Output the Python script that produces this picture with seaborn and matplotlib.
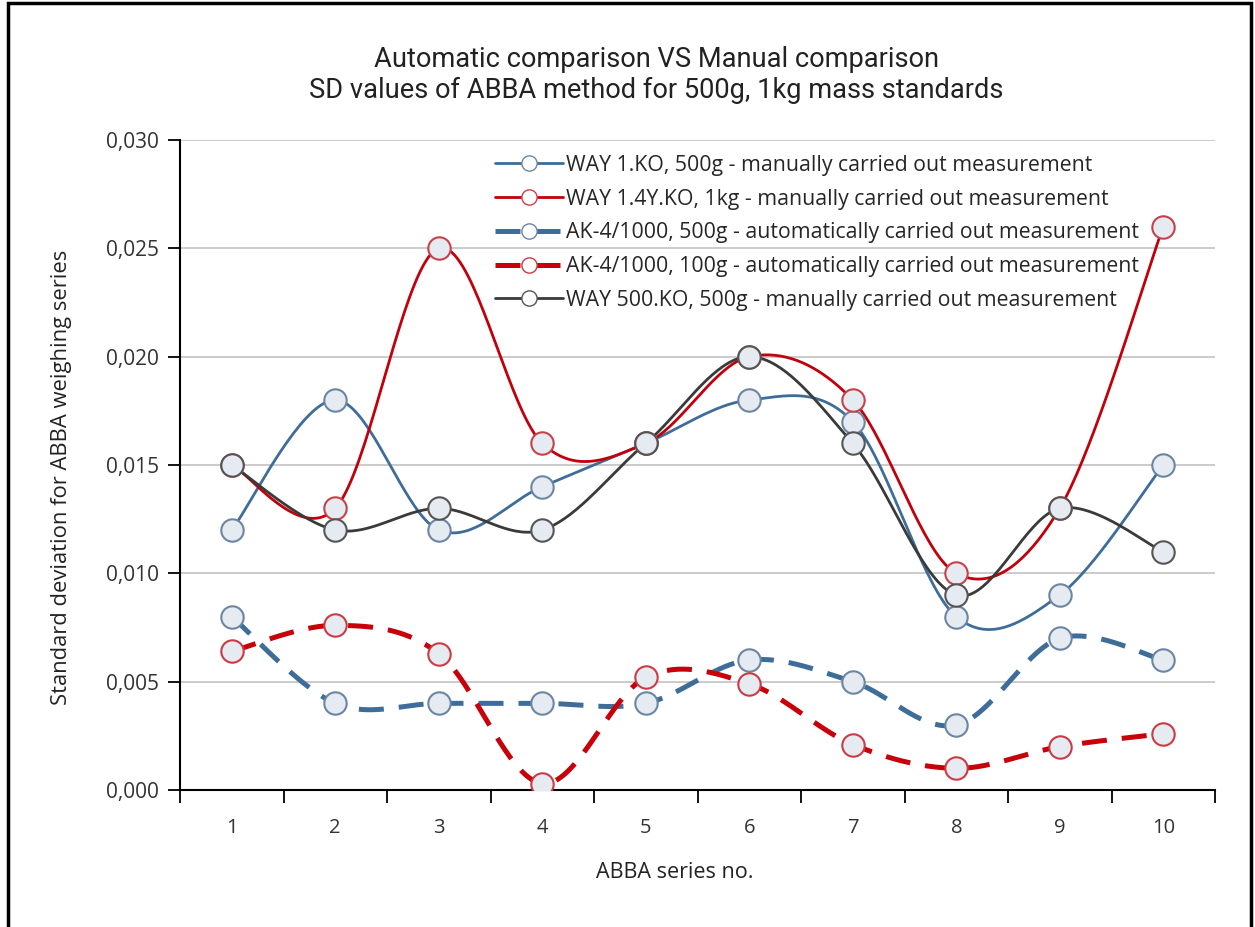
import numpy as np
import pandas as pd
import matplotlib
matplotlib.use("Agg")
import matplotlib.pyplot as plt
from matplotlib.lines import Line2D
from matplotlib.patches import Rectangle
from matplotlib.ticker import FuncFormatter, FixedLocator
import seaborn as sns

# data
series_no = [1, 2, 3, 4, 5, 6, 7, 8, 9, 10]
way1_500g = [0.012, 0.018, 0.012, 0.014, 0.016, 0.018, 0.017, 0.008, 0.009, 0.015]
way14_1kg = [0.015, 0.013, 0.025, 0.016, 0.016, 0.020, 0.018, 0.010, 0.013, 0.026]
ak_500g = [0.008, 0.004, 0.004, 0.004, 0.004, 0.006, 0.005, 0.003, 0.007, 0.006]
ak_100g = [0.0064, 0.0076, 0.0063, 0.0003, 0.0052, 0.0049, 0.0021, 0.0010, 0.0020, 0.0026]
way500_500g = [0.015, 0.012, 0.013, 0.012, 0.016, 0.020, 0.016, 0.009, 0.013, 0.011]

labels = [
    "WAY 1.KO, 500g - manually carried out measurement",
    "WAY 1.4Y.KO, 1kg - manually carried out measurement",
    "AK-4/1000, 500g - automatically carried out measurement",
    "AK-4/1000, 100g - automatically carried out measurement",
    "WAY 500.KO, 500g - manually carried out measurement",
]
y_ticks = [0.0, 0.005, 0.010, 0.015, 0.020, 0.025, 0.030]


def smooth(x, y, n=40):
    # Excel-like smoothed line: cubic Bezier segments with Catmull-Rom tangents
    p = np.column_stack([x, y]).astype(float)
    pts = []
    for i in range(len(p) - 1):
        prev = p[i - 1] if i > 0 else p[i]
        nxt = p[i + 2] if i + 2 < len(p) else p[i + 1]
        b0, b3 = p[i], p[i + 1]
        b1 = b0 + (b3 - prev) / 6
        b2 = b3 - (nxt - b0) / 6
        t = np.linspace(0, 1, n)[:, None]
        seg = ((1 - t) ** 3) * b0 + 3 * ((1 - t) ** 2) * t * b1 + 3 * (1 - t) * t ** 2 * b2 + t ** 3 * b3
        pts.append(seg if i == 0 else seg[1:])
    pts = np.vstack(pts)
    return pts[:, 0], pts[:, 1]


sns.set_theme(style="white")
plt.rcParams["font.family"] = ["Open Sans", "DejaVu Sans"]

fig = plt.figure(figsize=(12.55, 9.27), dpi=100)
ax = fig.add_axes([180 / 1255, 1 - 790 / 927, 1035 / 1255, 650 / 927])

face = "#e6eaf1"
styles = [
    dict(data=way1_500g, color="#3f6d9a", edge="#6b86a3", ls="-", lw=2.0),
    dict(data=way14_1kg, color="#c0000b", edge="#c8414a", ls="-", lw=2.0),
    dict(data=ak_500g, color="#3f6d9a", edge="#6b86a3", ls=(0, (5, 3)), lw=3.6),
    dict(data=ak_100g, color="#c8000a", edge="#cc3a43", ls=(0, (5, 3)), lw=3.6),
    dict(data=way500_500g, color="#3a3a3a", edge="#555555", ls="-", lw=2.0),
]

handles = []
for st, lab in zip(styles, labels):
    xs, ys = smooth(series_no, st["data"])
    sns.lineplot(x=xs, y=ys, sort=False, estimator=None, ax=ax, color=st["color"],
                 linewidth=st["lw"], linestyle=st["ls"], zorder=3)
    h = Line2D([], [], color=st["color"], lw=st["lw"], ls=st["ls"], marker="o",
               markersize=11, markerfacecolor="white", markeredgecolor=st["edge"])
    handles.append(h)

for st in styles:
    df = pd.DataFrame({"x": series_no, "y": st["data"]})
    sns.scatterplot(data=df, x="x", y="y", ax=ax, s=260, color=face,
                    edgecolor=st["edge"], linewidth=1.5, zorder=4)

ax.set_xlabel("")
ax.set_ylabel("")
ax.set_xlim(0.5, 10.5)
ax.set_ylim(0, 0.030)
ax.yaxis.set_major_locator(FixedLocator(y_ticks))
ax.yaxis.set_major_formatter(FuncFormatter(lambda v, p: f"{v:.3f}".replace(".", ",")))
ax.set_xticks(series_no)
ax.set_xticklabels([str(s) for s in series_no])
ax.set_xticks(np.arange(0.5, 11, 1), minor=True)
ax.tick_params(axis="x", which="major", length=0, pad=20, labelsize=14.5, labelcolor="#333333")
ax.tick_params(axis="x", which="minor", length=9, width=1.3, color="black", direction="out", bottom=True)
ax.tick_params(axis="y", which="major", length=9, width=1.3, color="black", direction="out",
               left=True, pad=6, labelsize=15, labelcolor="#333333")

ax.grid(axis="y", color="#c2c2c2", linewidth=1.2)
ax.set_axisbelow(True)
for s in ["top", "right"]:
    ax.spines[s].set_visible(False)
for s in ["left", "bottom"]:
    ax.spines[s].set_color("black")
    ax.spines[s].set_linewidth(1.5)

fig.text(675 / 1255, 1 - 872 / 927, "ABBA series no.", ha="center", va="center",
         fontsize=15.5, color="#222222")
fig.text(62 / 1255, 1 - 477 / 927, "Standard deviation for ABBA weighing series", ha="center",
         va="center", rotation=90, fontsize=15.8, color="#222222")

fig.text(656 / 1255, 1 - 75 / 927,
         "Automatic comparison VS Manual comparison\nSD values of ABBA method for 500g, 1kg mass standards",
         ha="center", va="center", fontsize=19.6, color="#222222", linespacing=1.2,
         family=["Roboto", "DejaVu Sans"])

leg = ax.legend(handles=handles, labels=labels, loc="upper left",
                bbox_to_anchor=(0.29, 1.0), frameon=False, fontsize=15.3, handlelength=3.2,
                handletextpad=0.12, labelspacing=0.6, borderpad=0.2)
leg.set_zorder(5)

fig.patches.append(Rectangle((8 / 1255, -0.01), 1243 / 1255, 1 - 3 / 927 + 0.01,
                             transform=fig.transFigure, fill=False, edgecolor="black", linewidth=2.5))

fig.savefig("out.png", dpi=100)
